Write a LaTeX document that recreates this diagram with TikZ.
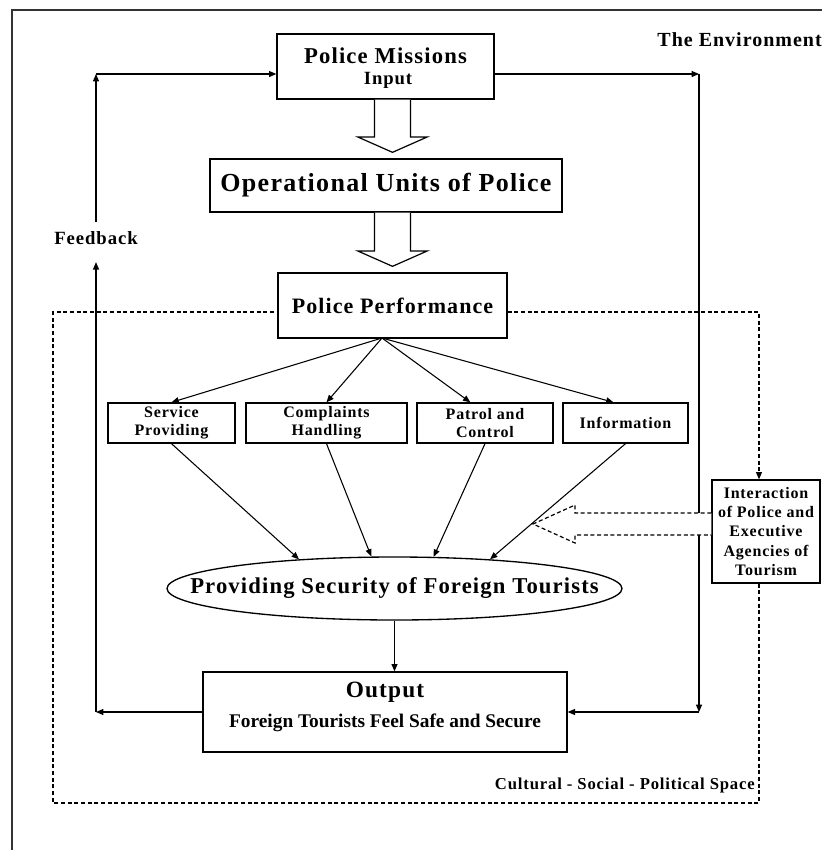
\documentclass[tikz,border=0pt]{standalone}
\usepackage{fontspec}
\setmainfont{Liberation Serif}[LetterSpace=5]
\usetikzlibrary{arrows.meta,shapes.geometric,calc}
\tikzset{>/.tip={Triangle[length=5.5pt,width=4.5pt]},
  box/.style={draw,line width=1pt,fill=white,inner sep=0pt,align=center},
  txt/.style={inner sep=0pt,align=center},
  link/.style={->,line width=0.8pt},
  envline/.style={line width=0.9pt,dash pattern=on 3pt off 2pt},
  hollow/.style={line width=0.9pt,fill=white}}
\newcommand{\fatarrow}[2]{\draw[hollow] let \p1=(#1), \p2=(#2) in (\x1-13.5pt,\y1) -- (\x1-13.5pt,\y2+16pt) -- (\x1-26pt,\y2+16pt) -- (\x1,\y2+4.5pt) -- (\x1+26pt,\y2+16pt) -- (\x1+13.5pt,\y2+16pt) -- (\x1+13.5pt,\y1);}
\begin{document}
\begin{tikzpicture}[x=0.75pt,y=-0.75pt]
\useasboundingbox (0,0) rectangle (822,850);
\draw[line width=1.3pt,black!80] (822,10) -- (12,10) -- (12,850);

\node[box,minimum width=162.75pt,minimum height=48.75pt] (pm) at (385.5,66.5) {};
\node[txt,font=\fontsize{17}{20}\selectfont\bfseries] (pmt) at (385.5,56) {Police Missions};
\node[txt,font=\fontsize{14}{16}\selectfont\bfseries] (pmi) at (388,80) {Input};
\node[box,minimum width=264pt,minimum height=39.75pt,font=\fontsize{19.5}{22}\selectfont\bfseries] (ou) at (386,185.5) {Operational Units of Police};
\node[box,minimum width=171.75pt,minimum height=48.75pt,font=\fontsize{16.5}{19}\selectfont\bfseries] (pp) at (392.5,305.5) {Police Performance};

\node[box,minimum width=95.25pt,minimum height=30pt,font=\fontsize{12}{13.5}\selectfont\bfseries] (sp) at (171.5,423) {Service\\Providing};
\node[box,minimum width=120.75pt,minimum height=30pt,font=\fontsize{12}{13.5}\selectfont\bfseries] (ch) at (326.5,423) {Complaints\\Handling};
\node[box,minimum width=102pt,minimum height=30pt,font=\fontsize{12}{13.5}\selectfont\bfseries] (pc) at (485,423) {Patrol and\\Control};
\node[box,minimum width=93.75pt,minimum height=30pt,font=\fontsize{12}{13.5}\selectfont\bfseries] (inf) at (625.5,423) {Information};

\node[box,ellipse,minimum width=341.25pt,minimum height=47.25pt] (sec) at (394.5,588.5) {};
\node[txt,font=\fontsize{17}{19}\selectfont\bfseries] (sect) at (sec.center) {Providing Security of Foreign Tourists};
\node[box,minimum width=273pt,minimum height=60pt] (out) at (385,712) {};
\node[txt,font=\fontsize{17.5}{20}\selectfont\bfseries] (outt) at (385,692) {Output};
\node[txt,font=\fontsize{14.5}{16}\selectfont\bfseries\addfontfeature{LetterSpace=0}] (outs) at (385,723) {Foreign Tourists Feel Safe and Secure};
\node[box,minimum width=81pt,minimum height=77.25pt,font=\fontsize{12}{14.6}\selectfont\bfseries] (ia) at (766,531.5) {Interaction\\of Police and\\Executive\\Agencies of\\Tourism};

\node[txt,inner sep=3pt,font=\fontsize{14}{16}\selectfont\bfseries] (fb) at (96,238) {Feedback};
\node[txt,anchor=east,font=\fontsize{15}{17}\selectfont\bfseries] (env) at (822,40) {The Environment};
\node[txt,anchor=east,font=\fontsize{12.5}{15}\selectfont\bfseries] (space) at (755,785) {Cultural - Social - Political Space};

\coordinate (envR) at (759,312);
\coordinate (envL) at (53,803);
\draw[envline] (ia.south -| envR) |- (envL) |- (pp.west |- envR);
\draw[envline,->] (pp.east |- envR) -- (envR) -- (envR |- ia.north);

\fatarrow{pm.south -| pp.north}{ou.north -| pp.north}
\fatarrow{ou.south -| pp.north}{pp.north}

\coordinate (ppo) at (382,338);
\foreach \i/\s in {sp/0pt,ch/0pt,pc/-11pt,inf/-9pt}
{
  \draw[link] (ppo) -- ([xshift=\s]\i.north);
}
\draw[link] (sp.south) -- (sec.163);
\draw[link] (ch.south) -- (sec.126);
\draw[link] (pc.south) -- (sec.39);
\draw[link] (inf.south) -- (sec.17);
\draw[link] (sec.south) -- (sec.south |- out.north);

\coordinate (fbtop) at (96,74);
\coordinate (fbbot) at (96,712);
\coordinate (envtop) at (699,74);
\coordinate (envbot) at (699,712);
\draw[link] (pm.east |- envtop) -- (envtop);
\draw[link] (envtop) -- (envbot);
\draw[link] (envbot) -- (out.east);
\draw[link] (out.west) -- (fbbot);
\draw[link,shorten >=10pt] (fbbot) -- (fb.south);
\draw[link,shorten <=4pt] (fb.north) -- (fbtop);
\draw[link] (fbtop) -- (pm.west |- fbtop);

\coordinate (hd) at (533,524);
\draw[envline,fill=white] let \p1=(ia.west), \p2=(hd) in (\x1,\y2+8.25pt) -- (\x2+31.5pt,\y2+8.25pt) -- (\x2+31.5pt,\y2+14.25pt) -- (\x2,\y2) -- (\x2+31.5pt,\y2-14.25pt) -- (\x2+31.5pt,\y2-8.25pt) -- (\x1,\y2-8.25pt);
\end{tikzpicture}
\end{document}
